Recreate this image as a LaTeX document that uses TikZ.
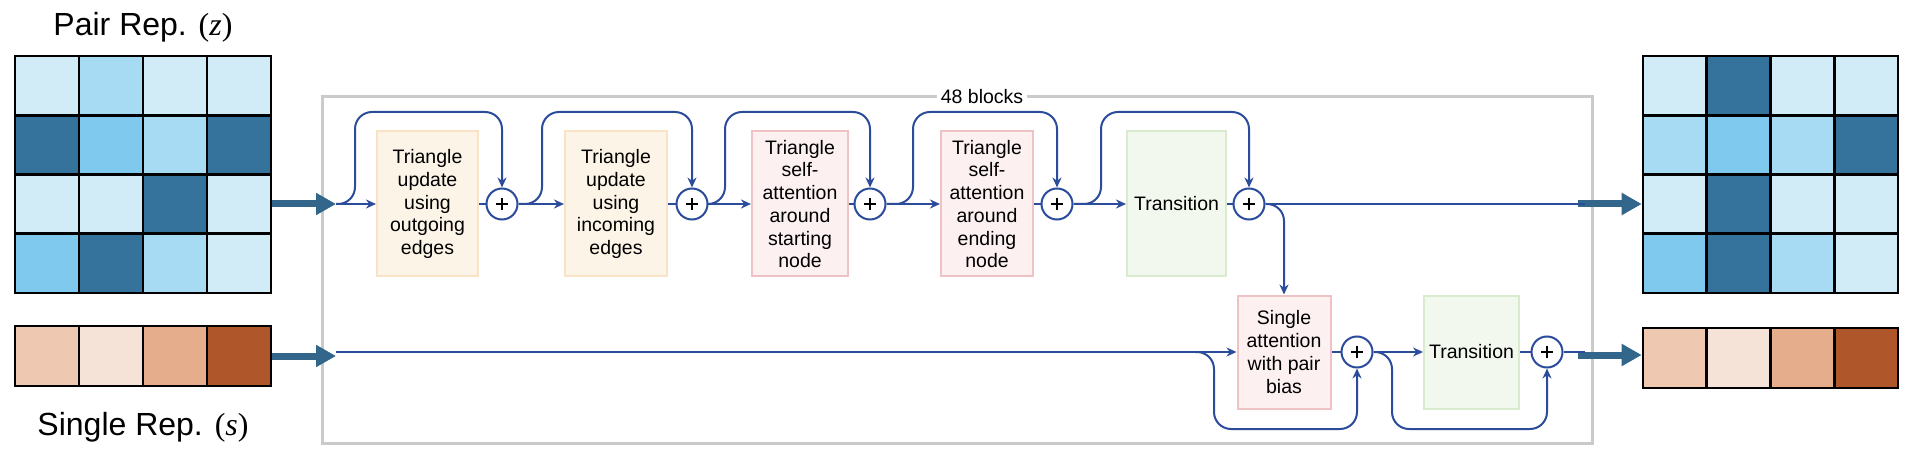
\documentclass[tikz,border=0pt]{standalone}
\usepackage{fontspec}
\setmainfont{Liberation Sans}
\newfontfamily\varserif{Liberation Serif}
\usetikzlibrary{arrows.meta}
\definecolor{lb}{HTML}{D1EBF7}
\definecolor{mb}{HTML}{A7DBF4}
\definecolor{sk}{HTML}{7FC9EE}
\definecolor{dk}{HTML}{35739D}
\definecolor{sa}{HTML}{EEC8B1}
\definecolor{sb}{HTML}{F5E3D8}
\definecolor{sc}{HTML}{E5AD8B}
\definecolor{sd}{HTML}{B0562B}
\definecolor{cblue}{HTML}{2B4B9B}
\definecolor{fatblue}{HTML}{32668A}
\definecolor{oraF}{HTML}{FDF4E8}
\definecolor{oraD}{HTML}{F9E2C5}
\definecolor{pinF}{HTML}{FCF0F1}
\definecolor{pinD}{HTML}{EFC3C6}
\definecolor{grnF}{HTML}{F2F8EE}
\definecolor{grnD}{HTML}{DAEACF}
\definecolor{frame}{HTML}{CACACA}
\tikzset{
  conn/.style={draw=cblue, line width=2pt},
  arr/.style={conn, -{Stealth[length=10pt,width=9pt]}},
  loop/.style={conn, rounded corners=17pt, -{Stealth[length=10pt,width=9pt]}},
  fat/.style={draw=fatblue, line width=7pt, -{Triangle[length=20pt,width=21pt]}},
  plusnode/.style={circle, draw=cblue, line width=2pt, fill=white, minimum size=31pt, inner sep=0pt,
    path picture={\draw[black,line width=1.8pt]
      ([xshift=-6pt]path picture bounding box.center) -- ([xshift=6pt]path picture bounding box.center)
      ([yshift=-6pt]path picture bounding box.center) -- ([yshift=6pt]path picture bounding box.center);}},
  blk/.style={rectangle, line width=2pt, inner sep=0pt, align=center, font=\fontsize{19.5}{22.7}\selectfont},
  ora/.style={blk, fill=oraF, draw=oraD, minimum height=145pt},
  pin/.style={blk, fill=pinF, draw=pinD},
  grn/.style={blk, fill=grnF, draw=grnD},
  gridbox/.style={rectangle, draw=black, line width=2.6pt, inner sep=0pt},
  gl/.style={draw=black, line width=2.6pt},
  title/.style={font=\fontsize{32}{36}\selectfont, inner sep=0pt}
}
\begin{document}
\begin{tikzpicture}[x=1pt,y=-1pt]
\useasboundingbox (0,0) rectangle (1916,454);

% ---------- titles ----------
\node[title] (tP) at (143,27) {Pair Rep. {\varserif(\textit{z})}};
\node[title] (tS) at (143,427) {Single Rep. {\varserif(\textit{s})}};

% ---------- left pair grid ----------
\foreach \c [count=\i from 0] in {lb,mb,lb,lb,dk,sk,mb,dk,lb,lb,dk,lb,sk,dk,mb,lb}{
  \pgfmathtruncatemacro\rr{floor(\i/4)}
  \pgfmathtruncatemacro\cc{mod(\i,4)}
  \fill[\c] (15+64*\cc,56+59.25*\rr) rectangle ++(64,59.25);
}
\foreach \k in {1,2,3}{
  \draw[gl] (15+64*\k,56) -- (15+64*\k,293);
  \draw[gl] (15,56+59.25*\k) -- (271,56+59.25*\k);
}
\node[gridbox, minimum width=256pt, minimum height=237pt] (pairL) at (143,174.5) {};

% ---------- left single grid ----------
\foreach \c [count=\i from 0] in {sa,sb,sc,sd}{
  \fill[\c] (15+64*\i,326) rectangle ++(64,60);
}
\foreach \k in {1,2,3}{ \draw[gl] (15+64*\k,326) -- (15+64*\k,386); }
\node[gridbox, minimum width=256pt, minimum height=60pt] (singL) at (143,356) {};

% ---------- right pair grid ----------
\foreach \c [count=\i from 0] in {lb,dk,lb,lb,mb,sk,mb,dk,lb,dk,lb,lb,sk,dk,mb,lb}{
  \pgfmathtruncatemacro\rr{floor(\i/4)}
  \pgfmathtruncatemacro\cc{mod(\i,4)}
  \fill[\c] (1643+63.75*\cc,56+59.25*\rr) rectangle ++(63.75,59.25);
}
\foreach \k in {1,2,3}{
  \draw[gl] (1643+63.75*\k,56) -- (1643+63.75*\k,293);
  \draw[gl] (1643,56+59.25*\k) -- (1898,56+59.25*\k);
}
\node[gridbox, minimum width=255pt, minimum height=237pt] (pairR) at (1770.5,174.5) {};

% ---------- right single grid ----------
\foreach \c [count=\i from 0] in {sa,sb,sc,sd}{
  \fill[\c] (1643+63.75*\i,328) rectangle ++(63.75,60);
}
\foreach \k in {1,2,3}{ \draw[gl] (1643+63.75*\k,328) -- (1643+63.75*\k,388); }
\node[gridbox, minimum width=255pt, minimum height=60pt] (singR) at (1770.5,358) {};

% ---------- 48 blocks frame ----------
\node[rectangle, draw=frame, line width=3pt, minimum width=1270pt, minimum height=346pt, inner sep=0pt] (frm) at (957,270) {};
\node[fill=white, inner sep=4pt, font=\fontsize{19.5}{22.7}\selectfont] (lbl) at (982,97) {48 blocks};

% ---------- blocks ----------
\node[ora, minimum width=101pt] (b1) at (427.5,204) {Triangle\\update\\using\\outgoing\\edges};
\node[ora, minimum width=102pt] (b2) at (616,204) {Triangle\\update\\using\\incoming\\edges};
\node[pin, minimum width=96pt, minimum height=145pt] (b3) at (800,204) {Triangle\\self-\\attention\\around\\starting\\node};
\node[pin, minimum width=92pt, minimum height=145pt] (b4) at (987,204) {Triangle\\self-\\attention\\around\\ending\\node};
\node[grn, minimum width=99pt, minimum height=145pt] (b5) at (1176.5,204) {Transition};
\node[pin, minimum width=93pt, minimum height=113pt] (b6) at (1284,352) {Single\\attention\\with pair\\bias};
\node[grn, minimum width=95pt, minimum height=113pt] (b7) at (1471.5,352) {Transition};

\node[plusnode] (p1) at (502,204) {};
\node[plusnode] (p2) at (692,204) {};
\node[plusnode] (p3) at (870,204) {};
\node[plusnode] (p4) at (1057,204) {};
\node[plusnode] (p5) at (1249,204) {};
\node[plusnode] (p6) at (1357,352) {};
\node[plusnode] (p7) at (1547,352) {};

\coordinate (inP) at (336,204);
\coordinate (inS) at (336,352);
\coordinate (outP) at (1585,204);
\coordinate (outS) at (1585,352);
\coordinate (fP) at (1578,204);
\coordinate (fS) at (1578,355);

% ---------- thick input/output arrows ----------
\draw[fat] (pairL.east |- inP) -- (inP);
\draw[fat] (singL.east) -- (singL.east -| inS);
\draw[fat] (fP) -- (fP -| pairR.west);
\draw[fat] (fS) -- (fS -| singR.west);

% ---------- pair track ----------
\draw[arr] (inP) -- (b1.west);
\draw[conn] (b1.east) -- (p1.west);
\draw[arr] (p1.east) -- (b2.west);
\draw[conn] (b2.east) -- (p2.west);
\draw[arr] (p2.east) -- (b3.west);
\draw[conn] (b3.east) -- (p3.west);
\draw[arr] (p3.east) -- (b4.west);
\draw[conn] (b4.east) -- (p4.west);
\draw[arr] (p4.east) -- (b5.west);
\draw[conn] (b5.east) -- (p5.west);
\draw[conn] (p5.east) -- (outP);

\draw[loop] (inP) -- (355,204) -- (355,112) -- (p1.north |- 0,112) -- (p1.north);
\draw[loop] (p1.east) -- (542,204) -- (542,112) -- (p2.north |- 0,112) -- (p2.north);
\draw[loop] (p2.east) -- (725,204) -- (725,112) -- (p3.north |- 0,112) -- (p3.north);
\draw[loop] (p3.east) -- (913,204) -- (913,112) -- (p4.north |- 0,112) -- (p4.north);
\draw[loop] (p4.east) -- (1101,204) -- (1101,112) -- (p5.north |- 0,112) -- (p5.north);
\draw[loop] (p5.east) -| (b6.north);

% ---------- single track ----------
\draw[arr] (inS) -- (b6.west);
\draw[conn] (b6.east) -- (p6.west);
\draw[arr] (p6.east) -- (b7.west);
\draw[conn] (b7.east) -- (p7.west);
\draw[conn] (p7.east) -- (outS);

\draw[loop] (1195,352) -- (1214,352) -- (1214,429) -- (p6.south |- 0,429) -- (p6.south);
\draw[loop] (p6.east) -- (1392,352) -- (1392,429) -- (p7.south |- 0,429) -- (p7.south);
\end{tikzpicture}
\end{document}
